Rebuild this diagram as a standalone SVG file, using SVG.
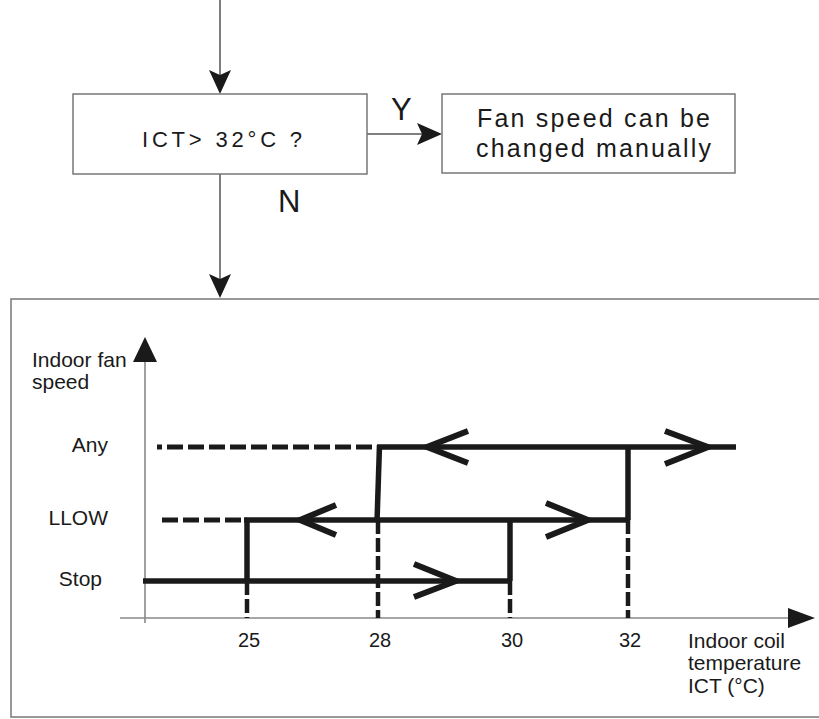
<svg xmlns="http://www.w3.org/2000/svg" width="819" height="719" viewBox="0 0 819 719">
<style>
text{font-family:"Liberation Sans",Arial,sans-serif;fill:#1a1a1a}
.box{fill:#fff;stroke:#777;stroke-width:1.5}
.thin{stroke:#555;stroke-width:1.5;fill:none}
.axis{stroke:#888;stroke-width:1.6;fill:none}
.thick{stroke:#1a1a1a;stroke-width:5.5;fill:none;stroke-linecap:butt}
.dashH{stroke:#1a1a1a;stroke-width:5;fill:none;stroke-dasharray:16 5}
.dashV{stroke:#1a1a1a;stroke-width:4.5;fill:none;stroke-dasharray:14 4}
.chev{stroke:#1a1a1a;stroke-width:6;fill:none;stroke-linejoin:miter}
.head{fill:#1a1a1a}
.lbl{font-size:21px}
</style>
<rect width="819" height="719" fill="#fff"/>
<g id="connectors">
<line class="thin" x1="220" y1="0" x2="220" y2="80"/>
<polygon class="head" points="209,70 220,75 231,70 220,94"/>
<line class="thin" x1="367" y1="134" x2="425" y2="134"/>
<polygon class="head" points="417,123 422,134 417,145 442,134"/>
<line class="thin" x1="220" y1="174" x2="220" y2="285"/>
<polygon class="head" points="209,274 220,279 231,274 220,298"/>
<text x="391" y="120" font-size="31">Y</text>
<text x="278" y="212" font-size="31">N</text>
</g>
<g id="decision">
<rect class="box" x="73" y="94" width="294" height="80"/>
<text x="142" y="147" font-size="22" textLength="160" lengthAdjust="spacing">ICT&gt; 32°C ?</text>
</g>
<g id="manual">
<rect class="box" x="442" y="94" width="293" height="79"/>
<text x="477" y="127" font-size="25" textLength="233" lengthAdjust="spacing">Fan speed can be</text>
<text x="476" y="157" font-size="25" textLength="235" lengthAdjust="spacing">changed manually</text>
</g>
<g id="chart">
<rect class="box" x="11" y="299" width="820" height="418"/>
<line class="axis" x1="145" y1="623" x2="145" y2="355"/>
<polygon class="head" points="145,337 157,362 133,362"/>
<line class="axis" x1="120" y1="618" x2="795" y2="618"/>
<polygon class="head" points="815,618 788,608 788,628"/>
<text class="lbl" x="32" y="367">Indoor fan</text>
<text class="lbl" x="32" y="389">speed</text>
<text class="lbl" x="108" y="452" text-anchor="end">Any</text>
<text class="lbl" x="108" y="525" text-anchor="end">LLOW</text>
<text class="lbl" x="102" y="586" text-anchor="end">Stop</text>
<g font-size="20" text-anchor="middle">
<text x="249" y="647">25</text>
<text x="380" y="647">28</text>
<text x="512" y="647">30</text>
<text x="630" y="647">32</text>
</g>
<text class="lbl" x="688" y="648">Indoor coil</text>
<text class="lbl" x="688" y="670">temperature</text>
<text class="lbl" x="688" y="693">ICT (°C)</text>
<line class="dashH" x1="157" y1="447" x2="377" y2="447" stroke-dashoffset="11"/>
<line class="dashH" x1="162" y1="520" x2="247" y2="520"/>
<line class="dashV" x1="247" y1="581" x2="247" y2="618"/>
<line class="dashV" x1="378" y1="520" x2="378" y2="618"/>
<line class="dashV" x1="510" y1="581" x2="510" y2="618"/>
<line class="dashV" x1="628" y1="520" x2="628" y2="618"/>
<path class="thick" d="M143,581 H512"/>
<path class="thick" d="M247,581 V518"/>
<path class="thick" d="M244,520 H630"/>
<path class="thick" d="M510,581 V518"/>
<path class="thick" d="M377,522 L379.5,445"/>
<path class="thick" d="M377,447 H736"/>
<path class="thick" d="M628,520 V445"/>
<polyline class="chev" points="468,431 427,447 468,463"/>
<polyline class="chev" points="665,431 708,447 665,464"/>
<polyline class="chev" points="336,505 300,520 336,535"/>
<polyline class="chev" points="546,503 588,520 546,537"/>
<polyline class="chev" points="414,564 456,581 414,597"/>
</g>
</svg>
